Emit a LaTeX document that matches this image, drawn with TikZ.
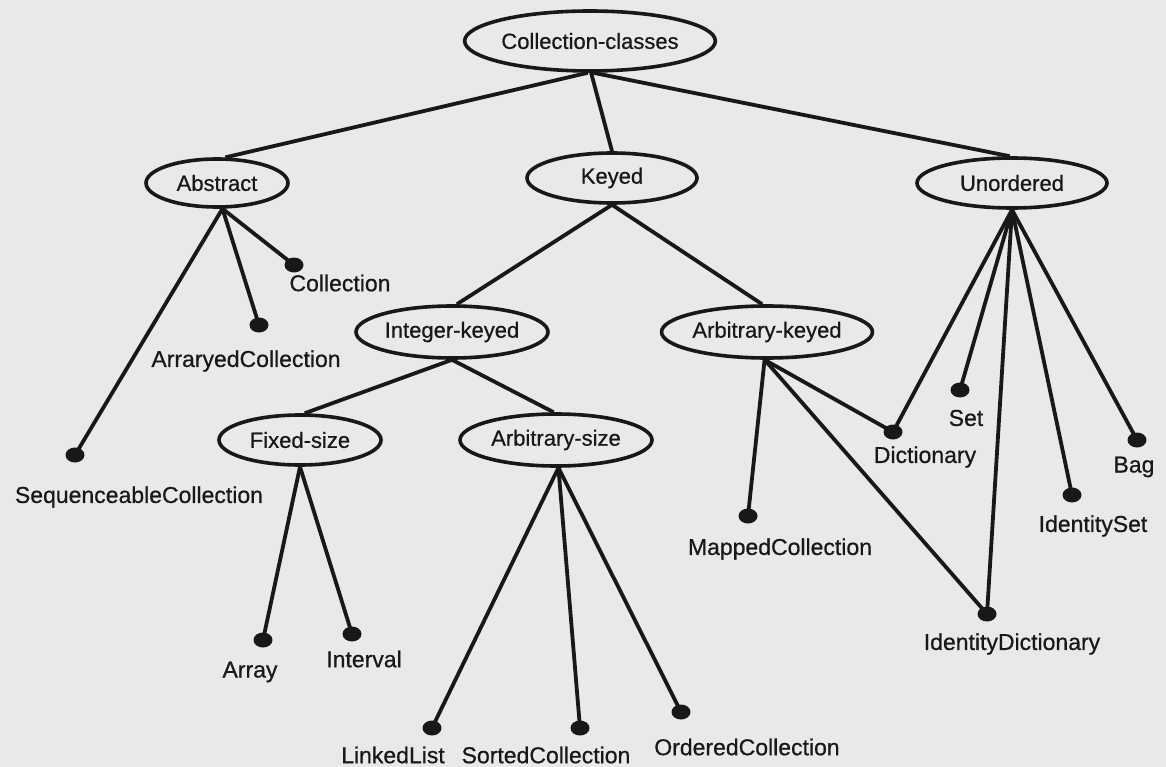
\documentclass[tikz,border=0pt]{standalone}
\usepackage{fontspec}
\setmainfont{Liberation Sans}
\newfontface\scanfont{Liberation Sans}[FakeBold=0.6]
\usetikzlibrary{shapes.geometric}
\definecolor{paper}{RGB}{233,233,231}
\definecolor{ink}{RGB}{24,24,24}
\begin{document}
\begin{tikzpicture}[x={(1pt,0pt)}, y={(0pt,-1pt)},
  cat/.style={ellipse, draw=ink, line width=3.6pt, fill=paper, inner sep=0pt,
    font=\scanfont\fontsize{22}{24}\selectfont, text=ink},
  leafdot/.style={ellipse, fill=ink, minimum width=19pt, minimum height=15pt, inner sep=0pt},
  leaftext/.style={font=\scanfont\fontsize{23}{25}\selectfont, text=ink, inner sep=0pt},
  link/.style={draw=ink, line width=3.8pt}]
\fill[paper] (0,0) rectangle (1166,767);
\useasboundingbox (0,0) rectangle (1166,767);
% categories
\node[cat, minimum width=232pt, minimum height=60pt] (cc)  at (590,41)  {Collection-classes};
\node[cat, minimum width=142pt, minimum height=48pt] (abs) at (217,183) {Abstract};
\node[cat, minimum width=170pt, minimum height=50pt] (key) at (612,178) {Keyed};
\node[cat, minimum width=190pt, minimum height=50pt] (uno) at (1012,183) {Unordered};
\node[cat, minimum width=192pt, minimum height=52pt] (ik)  at (452,332) {Integer-keyed};
\node[cat, minimum width=192pt, minimum height=52pt] (ak)  at (767,332) {Arbitrary-keyed};
\node[cat, minimum width=162pt, minimum height=50pt] (fs)  at (300,440) {Fixed-size};
\node[cat, minimum width=192pt, minimum height=52pt] (as)  at (556,440) {Arbitrary-size};
% leaves: dots
\node[leafdot] (dcol)  at (294,265) {};
\node[leafdot] (darr)  at (259,325) {};
\node[leafdot] (dseq)  at (75,455)  {};
\node[leafdot] (dary)  at (263,640) {};
\node[leafdot] (dint)  at (352,634) {};
\node[leafdot] (dlnk)  at (432,728) {};
\node[leafdot] (dsrt)  at (580,728) {};
\node[leafdot] (dord)  at (681,712) {};
\node[leafdot] (dmap)  at (748,516) {};
\node[leafdot] (ddic)  at (893,432) {};
\node[leafdot] (dset)  at (960,390) {};
\node[leafdot] (didd)  at (987,614) {};
\node[leafdot] (dids)  at (1072,495) {};
\node[leafdot] (dbag)  at (1137,440) {};
% leaves: labels
\node[leaftext] (tcol) at (340,283) {Collection};
\node[leaftext] (tarr) at (246,361) {ArraryedCollection};
\node[leaftext] (tseq) at (139,497) {SequenceableCollection};
\node[leaftext] (tary) at (250,672) {Array};
\node[leaftext] (tint) at (364,659) {Interval};
\node[leaftext] (tlnk) at (393,755) {LinkedList};
\node[leaftext] (tsrt) at (546,755) {SortedCollection};
\node[leaftext] (tord) at (747,747) {OrderedCollection};
\node[leaftext] (tmap) at (780,549) {MappedCollection};
\node[leaftext] (tdic) at (925,457) {Dictionary};
\node[leaftext] (tset) at (966,418) {Set};
\node[leaftext] (tidd) at (1012,644) {IdentityDictionary};
\node[leaftext] (tids) at (1093,526) {IdentitySet};
\node[leaftext] (tbag) at (1134,467) {Bag};
% connectors
\draw[link] (cc.266) -- (abs.72);
\draw[link] (cc.272) -- (key.north);
\draw[link] (cc.276) -- (uno.95);
\draw[link] (abs.282) -- (dcol.center);
\draw[link] (abs.282) -- (darr.center);
\draw[link] (abs.282) -- (dseq.center);
\draw[link] (key.south) -- (ik.80);
\draw[link] (key.south) -- (ak.100);
\draw[link] (ik.south) -- (fs.80);
\draw[link] (ik.south) -- (as.95);
\draw[link] (fs.south) -- (dary.center);
\draw[link] (fs.south) -- (dint.center);
\draw[link] (as.275) -- (dlnk.center);
\draw[link] (as.275) -- (dsrt.center);
\draw[link] (as.275) -- (dord.center);
\draw[link] (ak.265) -- (dmap.center);
\draw[link] (ak.265) -- (ddic.center);
\draw[link] (ak.265) -- (didd.center);
\draw[link] (uno.south) -- (ddic.center);
\draw[link] (uno.south) -- (dset.center);
\draw[link] (uno.south) -- (didd.center);
\draw[link] (uno.south) -- (dids.center);
\draw[link] (uno.south) -- (dbag.center);
\end{tikzpicture}
\end{document}
